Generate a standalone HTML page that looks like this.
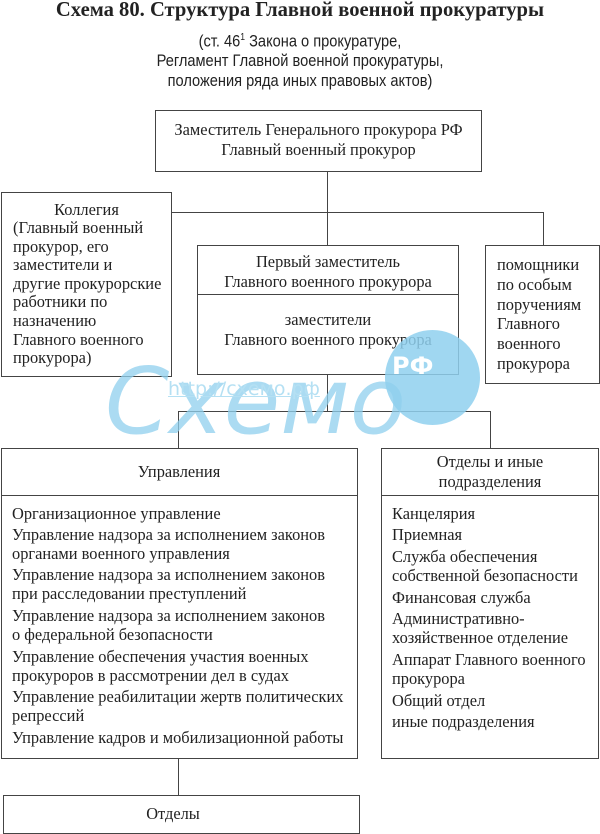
<!DOCTYPE html>
<html><head><meta charset="utf-8"><style>
body{margin:0;width:600px;height:834px;background:#fff;position:relative;overflow:hidden;font-family:"Liberation Serif","Noto Serif CJK SC",serif;color:#222}
.a{position:absolute}
.b{position:absolute;border:1.3px solid #444;box-sizing:border-box}
.l{position:absolute;background:#444}
.t{position:absolute;font-size:16.4px;line-height:19px;white-space:nowrap}
.c{text-align:center}
</style></head><body>
<div class="a c" style="left:0;top:-1px;width:600px;font-weight:bold;font-size:20.6px">Схема 80. Структура Главной военной прокуратуры</div>
<div class="a c" style="left:0;top:28px;width:600px;font-family:'Liberation Sans',sans-serif;font-size:17px;line-height:19.5px;transform:scaleX(0.86);">(ст. 46<sup style="font-size:10px">1</sup> Закона о прокуратуре,<br>Регламент Главной военной прокуратуры,<br>положения ряда иных правовых актов)</div>

<div class="b" style="left:155px;top:110px;width:327px;height:62px"></div>
<div class="t c" style="left:155px;top:120px;width:327px;line-height:20px">Заместитель Генерального прокурора РФ<br>Главный военный прокурор</div>

<div class="l" style="left:327px;top:172px;width:1px;height:73px"></div>
<div class="l" style="left:171px;top:212px;width:373px;height:1px"></div>
<div class="l" style="left:543px;top:212px;width:1px;height:33px"></div>

<div class="b" style="left:1px;top:192px;width:171px;height:185px"></div>
<div class="t c" style="left:1px;top:200px;width:171px">Коллегия</div>
<div class="t" style="left:13px;top:219px;line-height:18.6px">(Главный военный<br>прокурор, его<br>заместители и<br>другие прокурорские<br>работники по<br>назначению<br>Главного военного<br>прокурора)</div>

<div class="b" style="left:197px;top:245px;width:262px;height:130px"></div>
<div class="l" style="left:197px;top:294px;width:262px;height:1px"></div>
<div class="t c" style="left:197px;top:252px;width:262px;line-height:20px">Первый заместитель<br>Главного военного прокурора</div>
<div class="t c" style="left:197px;top:310px;width:262px;line-height:20px">заместители<br>Главного военного прокурора</div>

<div class="b" style="left:485px;top:245px;width:115px;height:139px"></div>
<div class="t" style="left:497px;top:255px;line-height:19.8px">помощники<br>по особым<br>поручениям<br>Главного<br>военного<br>прокурора</div>

<div class="l" style="left:327px;top:375px;width:1px;height:36px"></div>
<div class="l" style="left:178px;top:411px;width:313px;height:1px"></div>
<div class="l" style="left:178px;top:411px;width:1px;height:38px"></div>
<div class="l" style="left:490px;top:411px;width:1px;height:38px"></div>

<div class="a" style="left:385px;top:330px;width:95px;height:95px;border-radius:50%;background:#8fd0ee;opacity:.85"></div>
<div class="a" style="left:392px;top:352px;font-family:'DejaVu Sans',sans-serif;font-weight:bold;font-size:24px;color:#fff">РФ</div>
<div class="a" style="left:105px;top:352px;font-family:'DejaVu Sans',sans-serif;font-style:italic;font-size:92px;line-height:100px;color:#8fd0ee;opacity:.75">Схемо</div>
<div class="a" style="left:168px;top:378px;font-family:'DejaVu Sans',sans-serif;font-size:19px;color:#b5e0f3;text-decoration:underline">http://схемо.рф</div>

<div class="b" style="left:1px;top:448px;width:357px;height:311px;background:#fff"></div>
<div class="l" style="left:1px;top:495px;width:357px;height:1px"></div>
<div class="t c" style="left:1px;top:462px;width:356px">Управления</div>
<div class="t" style="left:12px;top:505px;line-height:18.7px">Организационное управление</div>
<div class="t" style="left:12px;top:526px;line-height:18.7px">Управление надзора за исполнением законов<br>органами военного управления</div>
<div class="t" style="left:12px;top:566px;line-height:18.7px">Управление надзора за исполнением законов<br>при расследовании преступлений</div>
<div class="t" style="left:12px;top:607px;line-height:18.7px">Управление надзора за исполнением законов<br>о федеральной безопасности</div>
<div class="t" style="left:12px;top:648px;line-height:18.7px">Управление обеспечения участия военных<br>прокуроров в рассмотрении дел в судах</div>
<div class="t" style="left:12px;top:688px;line-height:18.7px">Управление реабилитации жертв политических<br>репрессий</div>
<div class="t" style="left:12px;top:729px;line-height:18.7px">Управление кадров и мобилизационной работы</div>

<div class="b" style="left:381px;top:448px;width:218px;height:311px;background:#fff"></div>
<div class="l" style="left:381px;top:495px;width:218px;height:1px"></div>
<div class="t c" style="left:381px;top:452px;width:218px;line-height:20px">Отделы и иные<br>подразделения</div>
<div class="t" style="left:392px;top:505px;line-height:18.7px">Канцелярия</div>
<div class="t" style="left:392px;top:526px;line-height:18.7px">Приемная</div>
<div class="t" style="left:392px;top:548px;line-height:18.7px">Служба обеспечения<br>собственной безопасности</div>
<div class="t" style="left:392px;top:589px;line-height:18.7px">Финансовая служба</div>
<div class="t" style="left:392px;top:610px;line-height:18.7px">Административно-<br>хозяйственное отделение</div>
<div class="t" style="left:392px;top:651px;line-height:18.7px">Аппарат Главного военного<br>прокурора</div>
<div class="t" style="left:392px;top:692px;line-height:18.7px">Общий отдел</div>
<div class="t" style="left:392px;top:713px;line-height:18.7px">иные подразделения</div>

<div class="l" style="left:178px;top:759px;width:1px;height:37px"></div>
<div class="b" style="left:3px;top:795px;width:357px;height:39px"></div>
<div class="t c" style="left:3px;top:804px;width:340px">Отделы</div>
</body></html>
